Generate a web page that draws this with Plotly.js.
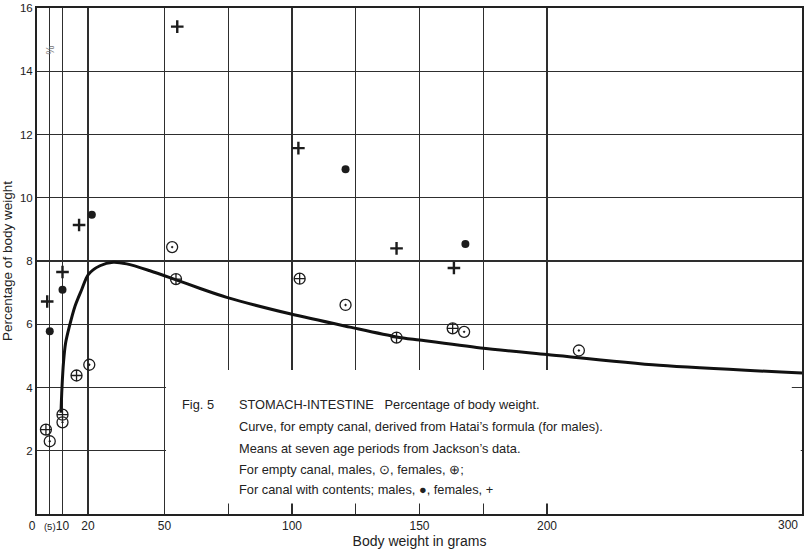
<!DOCTYPE html>
<html>
<head>
<meta charset="utf-8">
<script src="https://cdn.plot.ly/plotly-3.0.1.min.js"></script>
<style>html,body{margin:0;padding:0;background:#fff;}#chart{width:805px;height:551px;}</style>
</head>
<body>
<div id="chart"></div>
<script>
// Curve for empty canal (Hatai's formula, males)
var curveX = [9.4, 9.8, 10.4, 11.2, 12.7, 14.9, 17.5, 20.1, 24.7, 29.9, 35.2, 44, 54, 64, 74.4, 99.2, 122.7, 141, 150, 174, 200, 244, 300];
var curveY = [3.2, 4.0, 4.8, 5.4, 5.93, 6.57, 7.09, 7.57, 7.85, 7.96, 7.91, 7.7, 7.42, 7.13, 6.85, 6.33, 5.91, 5.6, 5.5, 5.25, 5.04, 4.70, 4.46];

// Empty canal, males (⊙)
var emptyMaleX = [5, 10, 20.5, 53, 121, 167.5, 212.5];
var emptyMaleY = [2.3, 2.9, 4.72, 8.44, 6.61, 5.76, 5.17];

// Empty canal, females (⊕)
var emptyFemaleX = [3.5, 10, 15.5, 54.5, 103, 141, 163];
var emptyFemaleY = [2.67, 3.14, 4.38, 7.43, 7.44, 5.58, 5.87];

// Canal with contents, males (●)
var fullMaleX = [5, 10, 21.5, 121, 168];
var fullMaleY = [5.78, 7.09, 9.46, 10.9, 8.54];

// Canal with contents, females (+)
var fullFemaleX = [4, 10, 16.5, 55, 102.5, 141, 163.5];
var fullFemaleY = [6.72, 7.65, 9.14, 15.41, 11.57, 8.40, 7.78];

// Axis ticks (the last label, 300, is drawn right-aligned at the edge)
var xTickVals = [0, 5, 10, 20, 50, 75, 100, 125, 150, 175, 200, 300];
var xTickText = ['0\u00a0\u00a0\u00a0', '<span style="font-size:9.5px">(5)</span>', '10', '20', '50', '', '100', '', '150', '', '200', ''];
var xLastTick = 300;
var xLastLabel = '300';
var yTickVals = [2, 4, 6, 8, 10, 12, 14, 16];

// Legend / caption lines
var captionFig = 'Fig. 5';
var captionLines = [
  'STOMACH-INTESTINE\u00a0\u00a0\u00a0Percentage of body weight.',
  'Curve, for empty canal, derived from Hatai\u2019s formula (for males).',
  'Means at seven age periods from Jackson\u2019s data.',
  'For empty canal, males, \u2299, females, \u2295;',
  'For canal with contents; males, \u25cf, females, +'
];

var ink = '#1c1c1c';
var traces = [
  {x: curveX, y: curveY, mode: 'lines', line: {color: '#111', width: 3, shape: 'spline', smoothing: 0.8}, hoverinfo: 'skip'},
  {x: emptyMaleX, y: emptyMaleY, mode: 'markers', marker: {symbol: 'circle-open-dot', size: 11, color: ink, line: {width: 1.3, color: ink}}},
  {x: emptyFemaleX, y: emptyFemaleY, mode: 'markers', marker: {symbol: 'circle-cross-open', size: 11, color: ink, line: {width: 1.3, color: ink}}},
  {x: fullMaleX, y: fullMaleY, mode: 'markers', marker: {symbol: 'circle', size: 8, color: ink}},
  {x: fullFemaleX, y: fullFemaleY, mode: 'markers', marker: {symbol: 'cross-thin-open', size: 9, color: ink, line: {width: 2.4, color: ink}}}
];

var baseFont = 'Liberation Sans, Arial, sans-serif';
var capFont = {family: baseFont, size: 12.8, color: '#222'};
var lineYs = [3.46, 2.76, 2.07, 1.41, 0.77];
var annotations = [
  {x: 56.1, y: lineYs[0], xref: 'x', yref: 'y', text: captionFig, showarrow: false, xanchor: 'left', yanchor: 'middle', font: capFont}
];
captionLines.forEach(function (t, i) {
  annotations.push({x: 78.5, y: lineYs[i], xref: 'x', yref: 'y', text: t, showarrow: false, xanchor: 'left', yanchor: 'middle', font: capFont});
});
annotations.push({x: 0.008, y: 0.93, xref: 'paper', yref: 'paper', text: '%', textangle: -90, showarrow: false, font: {family: baseFont, size: 10, color: '#777'}});
annotations.push({x: xLastTick, y: 0, xref: 'x', yref: 'paper', text: xLastLabel, showarrow: false, xanchor: 'right', yanchor: 'top', xshift: -2, yshift: -2, font: {family: baseFont, size: 12, color: '#222'}});

var layout = {
  width: 805, height: 551,
  margin: {l: 37, r: 3, t: 8, b: 37, pad: 0},
  paper_bgcolor: '#ffffff', plot_bgcolor: '#ffffff',
  showlegend: false,
  font: {family: baseFont, color: '#222'},
  xaxis: {
    range: [0, 300], autorange: false,
    tickmode: 'array', tickvals: xTickVals, ticktext: xTickText,
    tickangle: 0, ticks: '',
    showgrid: true, gridcolor: '#2e2e2e', gridwidth: 1.1,
    showline: true, linecolor: '#222', linewidth: 2, mirror: true,
    zeroline: false,
    tickfont: {size: 12, color: '#222'},
    title: {text: 'Body weight in grams', font: {size: 14, color: '#222'}, standoff: 2}
  },
  yaxis: {
    range: [0, 16], autorange: false,
    tickmode: 'array', tickvals: yTickVals,
    ticks: '', showgrid: true, gridcolor: '#2e2e2e', gridwidth: 1.1,
    showline: true, linecolor: '#222', linewidth: 2, mirror: true,
    zeroline: false,
    tickfont: {size: 11.5, color: '#222'},
    title: {text: 'Percentage of body weight', font: {size: 13.5, color: '#222'}, standoff: 4}
  },
  shapes: [
    {type: 'rect', xref: 'x', yref: 'y', x0: 50.6, x1: 299.5, y0: 0.33, y1: 4.55, fillcolor: '#ffffff', line: {width: 0}, layer: 'between'},
    {type: 'line', xref: 'x', yref: 'y', x0: 296, x1: 300, y0: 4, y1: 4, line: {color: '#333', width: 1}, layer: 'between'}
  ],
  annotations: annotations
};

Plotly.newPlot('chart', traces, layout, {displayModeBar: false, staticPlot: true});
</script>
</body>
</html>
